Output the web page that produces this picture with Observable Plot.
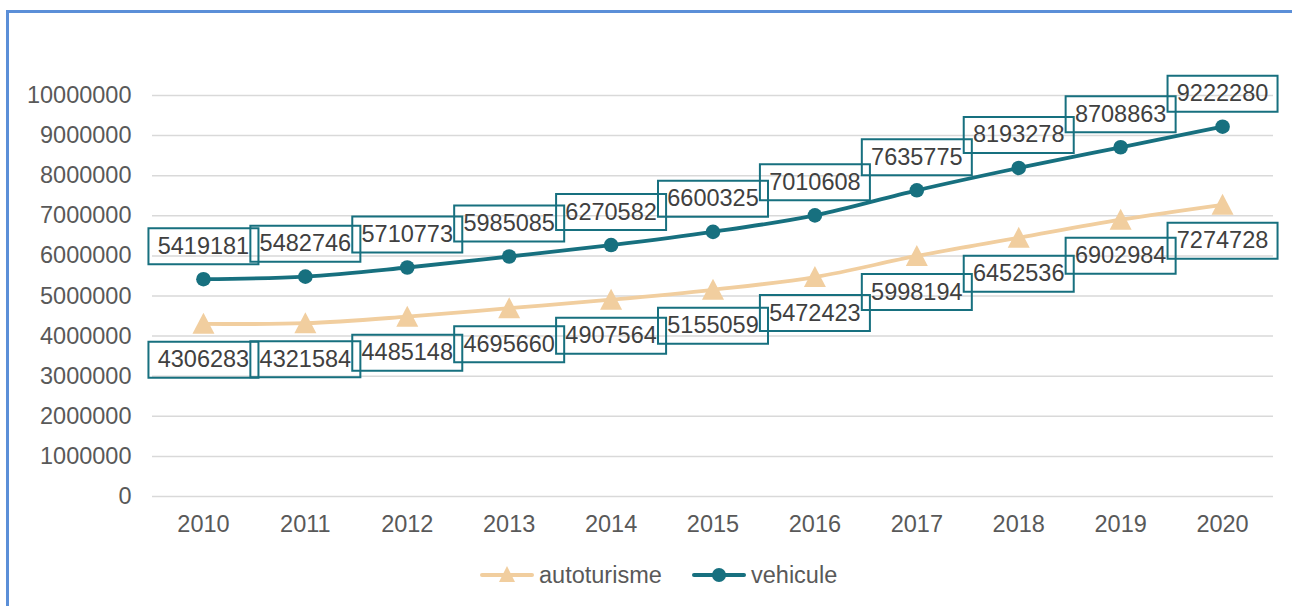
<!DOCTYPE html>
<html>
<head>
<meta charset="utf-8">
<script src="https://cdn.jsdelivr.net/npm/d3@7"></script>
<script src="https://cdn.jsdelivr.net/npm/@observablehq/plot@0.6"></script>
<style>
  html, body { margin: 0; padding: 0; background: #fff; }
  body { width: 1292px; height: 606px; overflow: hidden; position: relative; font-family: "Liberation Sans", Arial, sans-serif; }
  #frame { position: absolute; left: 6px; top: 10px; width: 1400px; height: 800px; border-left: 3px solid #5B8FD8; border-top: 3px solid #5B8FD8; pointer-events: none; }
  #legend { position: absolute; left: 0; top: 550px; width: 1292px; height: 56px; }
</style>
</head>
<body>
<div id="chart"></div>
<div id="legend"></div>
<div id="frame"></div>
<script>
const years = ["2010","2011","2012","2013","2014","2015","2016","2017","2018","2019","2020"];
const autoturisme = [4306283, 4321584, 4485148, 4695660, 4907564, 5155059, 5472423, 5998194, 6452536, 6902984, 7274728];
const vehicule = [5419181, 5482746, 5710773, 5985085, 6270582, 6600325, 7010608, 7635775, 8193278, 8708863, 9222280];
const yTicks = [0, 1000000, 2000000, 3000000, 4000000, 5000000, 6000000, 7000000, 8000000, 9000000, 10000000];
const seriesNames = ["autoturisme", "vehicule"];

const teal = "#17707F";
const sand = "#F1CE9F";

const autoData = years.map((y, i) => ({year: y, value: autoturisme[i]}));
const vehData = years.map((y, i) => ({year: y, value: vehicule[i]}));

const triangle = { draw(ctx) { ctx.moveTo(0, -11); ctx.lineTo(11, 10); ctx.lineTo(-11, 10); ctx.closePath(); } };
const box = { draw(ctx) { ctx.rect(-55, -18, 110, 36); } };

const fontSize = 23.5;

const plot = Plot.plot({
  width: 1292,
  height: 550,
  marginLeft: 152,
  marginRight: 19,
  marginTop: 95,
  marginBottom: 54,
  style: { background: "transparent", color: "#595959", fontFamily: "'Liberation Sans', Arial, sans-serif", fontSize: fontSize + "px", overflow: "visible" },
  x: { type: "point", domain: years, padding: 0.5, round: false },
  y: { domain: [0, 10000000] },
  marks: [
    Plot.ruleY(yTicks, { stroke: "#D9D9D9", strokeWidth: 1.5 }),
    Plot.axisY({ ticks: yTicks, tickSize: 0, tickPadding: 21, tickFormat: d3.format("d"), fontSize: fontSize, label: null }),
    Plot.axisX({ tickSize: 0, tickPadding: 19, fontSize: fontSize, label: null }),
    Plot.line(autoData, { x: "year", y: "value", stroke: sand, strokeWidth: 3.8, curve: "catmull-rom" }),
    Plot.dot(autoData, { x: "year", y: "value", symbol: triangle, fill: sand, stroke: "none" }),
    Plot.line(vehData, { x: "year", y: "value", stroke: teal, strokeWidth: 3.8, curve: "catmull-rom" }),
    Plot.dot(vehData, { x: "year", y: "value", r: 7.3, fill: teal, stroke: "none" }),
    Plot.dot(vehData, { x: "year", y: "value", symbol: box, fill: "none", stroke: teal, strokeWidth: 2, dy: -33 }),
    Plot.text(vehData, { x: "year", y: "value", text: d => String(d.value), dy: -33, fill: "#404040", fontSize: fontSize }),
    Plot.dot(autoData, { x: "year", y: "value", symbol: box, fill: "none", stroke: teal, strokeWidth: 2, dy: 36 }),
    Plot.text(autoData, { x: "year", y: "value", text: d => String(d.value), dy: 36, fill: "#404040", fontSize: fontSize })
  ]
});
document.getElementById("chart").appendChild(plot);

// Legend
const ns = "http://www.w3.org/2000/svg";
const lg = document.createElementNS(ns, "svg");
lg.setAttribute("width", 1292);
lg.setAttribute("height", 56);
const items = [
  { name: seriesNames[0], color: sand, x: 480, marker: "tri" },
  { name: seriesNames[1], color: teal, x: 692, marker: "dot" }
];
const cy = 25;
for (const it of items) {
  const ln = document.createElementNS(ns, "line");
  ln.setAttribute("x1", it.x + 2); ln.setAttribute("x2", it.x + 52);
  ln.setAttribute("y1", cy); ln.setAttribute("y2", cy);
  ln.setAttribute("stroke", it.color); ln.setAttribute("stroke-width", 4); ln.setAttribute("stroke-linecap", "round");
  lg.appendChild(ln);
  const mx = it.x + 27;
  if (it.marker === "tri") {
    const p = document.createElementNS(ns, "path");
    p.setAttribute("d", `M${mx},${cy - 9}L${mx + 8},${cy + 7}L${mx - 8},${cy + 7}Z`);
    p.setAttribute("fill", it.color);
    lg.appendChild(p);
  } else {
    const c = document.createElementNS(ns, "circle");
    c.setAttribute("cx", mx); c.setAttribute("cy", cy); c.setAttribute("r", 7);
    c.setAttribute("fill", it.color);
    lg.appendChild(c);
  }
  const t = document.createElementNS(ns, "text");
  t.setAttribute("x", it.x + 59); t.setAttribute("y", cy);
  t.setAttribute("dy", "0.35em");
  t.setAttribute("fill", "#595959");
  t.setAttribute("font-size", fontSize);
  t.setAttribute("font-family", "'Liberation Sans', Arial, sans-serif");
  t.textContent = it.name;
  lg.appendChild(t);
}
document.getElementById("legend").appendChild(lg);
</script>
</body>
</html>
